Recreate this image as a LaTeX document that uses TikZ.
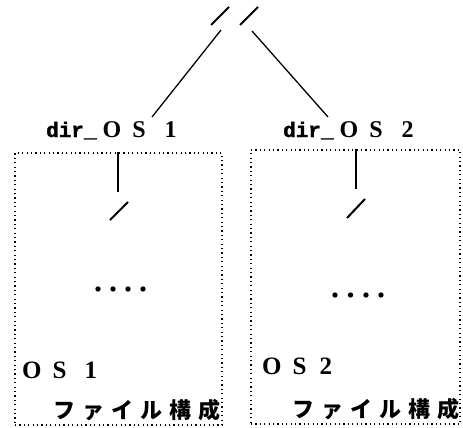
\documentclass[tikz,border=0pt]{standalone}
\usepackage{fontspec}
\newfontfamily\monob{Liberation Mono}[FakeBold=1.5]
\newfontfamily\serifb{Liberation Serif}
\newfontfamily\jp{Noto Sans CJK JP}
\tikzset{
  dirlabel/.style={inner sep=0pt, anchor=base west, font=\fontsize{21}{21}\selectfont},
  osbox/.style={draw, line width=1.2pt, dash pattern=on 1.2pt off 3.2pt, inner sep=0pt},
  treeline/.style={line width=1.3pt},
  slash/.style={line width=2pt},
  oslabel/.style={inner sep=0pt, anchor=base west, font=\serifb\bfseries\fontsize{25}{25}\selectfont},
  jplabel/.style={inner sep=0pt, anchor=base west, font=\jp\bfseries\fontsize{22}{22}\selectfont},
}
\newcommand{\dirtext}[1]{{\monob\bfseries dir\_}\kern6pt{\serifb\bfseries\fontsize{24}{24}\selectfont O\kern11pt S\kern19pt #1}}
\newcommand{\jptext}{フ\kern7ptァ\kern7ptイ\kern7ptル\kern7pt構\kern7pt成}
\begin{document}
\begin{tikzpicture}[x=1pt,y=-1pt]
\useasboundingbox (0,0) rectangle (463,428);
% top slashes
\coordinate (s1a) at (211,25); \coordinate (s1b) at (229,7);
\coordinate (s2a) at (240,25); \coordinate (s2b) at (258,7);
\draw[slash] (s1a) -- (s1b);
\draw[slash] (s2a) -- (s2b);
% labels
\node[dirlabel] (d1) at (46,137) {\dirtext{1}};
\node[dirlabel] (d2) at (283,137) {\dirtext{2}};
% tree lines
\coordinate (t1) at (221,30); \coordinate (t2) at (252,31);
\coordinate (e1) at (152,117); \coordinate (e2) at (328,117);
\draw[treeline] (t1) -- (e1);
\draw[treeline] (t2) -- (e2);
% boxes
\node[osbox, minimum width=207pt, minimum height=272pt] (b1) at (118.5,289) {};
\node[osbox, minimum width=209pt, minimum height=274pt] (b2) at (355.5,287) {};
% inner lines
\coordinate (v1) at (118,192); \coordinate (v2) at (356,189);
\draw[treeline] (b1.north -| v1) -- (v1);
\draw[treeline] (b2.north -| v2) -- (v2);
\coordinate (p1a) at (110,220); \coordinate (p1b) at (128,202);
\coordinate (p2a) at (347,218); \coordinate (p2b) at (365,199);
\draw[slash] (p1a) -- (p1b);
\draw[slash] (p2a) -- (p2b);
% dots
\foreach \x in {98,113,128,143} \fill (\x,289) circle (2.7pt);
\foreach \x in {335,350.5,366,381} \fill (\x,295) circle (2.7pt);
% OS labels
\node[oslabel] (o1) at (22,378) {O\kern11pt S\kern18pt 1};
\node[oslabel] (o2) at (262,374) {O\kern11pt S\kern13pt 2};
\node[jplabel] (j1) at (53,418) {\jptext};
\node[jplabel] (j2) at (292,417) {\jptext};
\end{tikzpicture}
\end{document}
